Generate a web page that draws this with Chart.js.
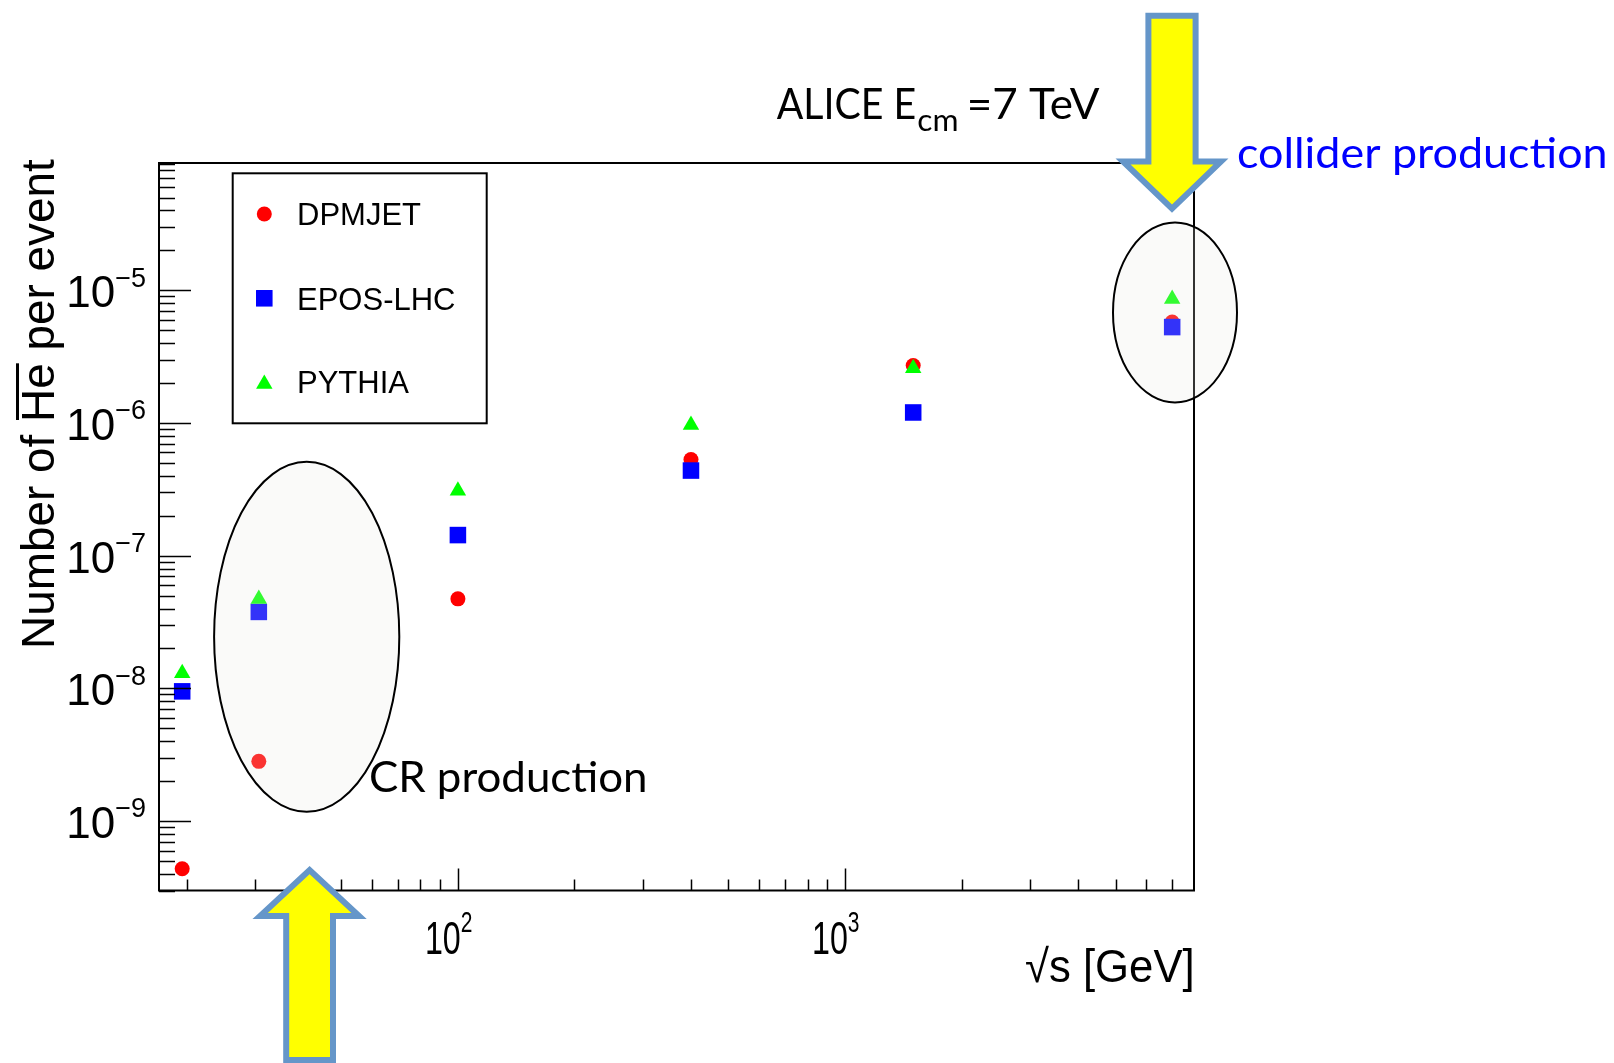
<!DOCTYPE html>
<html>
<head>
<meta charset="utf-8">
<script src="https://cdn.jsdelivr.net/npm/chart.js@4.4.1/dist/chart.umd.min.js"></script>
<style>
  html, body { margin: 0; padding: 0; background: #ffffff; overflow: hidden; }
  canvas { display: block; }
</style>
</head>
<body>
<canvas id="chart" width="1614" height="1063"></canvas>
<script>
// Centre-of-mass energies sqrt(s) in GeV
const energies = [19.4, 30.6, 100, 400, 1500, 7000];

// Number of anti-helium per event for each generator
const dpmjet  = [4.37e-10, 2.82e-9, 4.73e-8, 5.31e-7, 2.71e-6, 5.77e-6];
const eposLhc = [9.5e-9,   3.77e-8, 1.43e-7, 4.38e-7, 1.20e-6, 5.28e-6];
const pythia  = [1.30e-8,  4.72e-8, 3.09e-7, 9.66e-7, 2.58e-6, 8.59e-6];

const seriesNames = ['DPMJET', 'EPOS-LHC', 'PYTHIA'];

// Axis ranges and labelled decades
const xRange = [16.9, 7970];
const yRange = [3.0e-10, 9.1e-5];
const xDecadeExponents = [2, 3];
const yDecadeExponents = [-9, -8, -7, -6, -5];

const toPoints = vals => vals.map((v, i) => ({ x: energies[i], y: v }));

const ROOT_FONT = '"Liberation Sans", Arial, Helvetica, sans-serif';
const NOTE_FONT = 'Lato, "Open Sans", sans-serif';

// Draw text so that its inked extent spans [left, right]
function inkText(ctx, text, font, left, right, baseline, color) {
  ctx.save();
  ctx.font = font;
  ctx.fillStyle = color;
  ctx.textAlign = 'left';
  ctx.textBaseline = 'alphabetic';
  const m = ctx.measureText(text);
  const w = m.actualBoundingBoxLeft + m.actualBoundingBoxRight;
  const sx = (right - left) / w;
  ctx.translate(left, baseline);
  ctx.scale(sx, 1);
  ctx.fillText(text, m.actualBoundingBoxLeft, 0);
  ctx.restore();
}

function blockArrow(ctx, cx, tailY, baseY, tipY, shaftHalf, headHalf) {
  ctx.save();
  ctx.beginPath();
  ctx.moveTo(cx - shaftHalf, tailY);
  ctx.lineTo(cx + shaftHalf, tailY);
  ctx.lineTo(cx + shaftHalf, baseY);
  ctx.lineTo(cx + headHalf, baseY);
  ctx.lineTo(cx, tipY);
  ctx.lineTo(cx - headHalf, baseY);
  ctx.lineTo(cx - shaftHalf, baseY);
  ctx.closePath();
  ctx.fillStyle = '#ffff00';
  ctx.fill();
  ctx.lineJoin = 'miter';
  ctx.lineWidth = 6;
  ctx.strokeStyle = '#6596c9';
  ctx.stroke();
  ctx.restore();
}

function ellipseMark(ctx, cx, cy, rx, ry) {
  ctx.save();
  ctx.beginPath();
  ctx.ellipse(cx, cy, rx, ry, 0, 0, Math.PI * 2);
  ctx.fillStyle = 'rgba(232,232,229,0.22)';
  ctx.fill();
  ctx.lineWidth = 2;
  ctx.strokeStyle = '#000000';
  ctx.stroke();
  ctx.restore();
}

// "10" with a raised exponent; left edge of "10" at x0
function powerLabel(ctx, exp, x0, baseline, size, expRatio, sx) {
  ctx.save();
  ctx.fillStyle = '#000';
  ctx.textBaseline = 'alphabetic';
  ctx.textAlign = 'left';
  const big = size + 'px ' + ROOT_FONT;
  const small = Math.round(size * expRatio) + 'px ' + ROOT_FONT;
  const expText = exp < 0 ? '\u2212' + Math.abs(exp) : String(exp);
  ctx.translate(x0, baseline);
  ctx.scale(sx, 1);
  ctx.font = big;
  const wb = ctx.measureText('10').width;
  ctx.fillText('10', 0, 0);
  ctx.font = small;
  ctx.fillText(expText, wb, -size * 0.47);
  ctx.restore();
}

function powerLabelWidth(ctx, exp, size, expRatio, sx) {
  const expText = exp < 0 ? '\u2212' + Math.abs(exp) : String(exp);
  ctx.save();
  ctx.font = size + 'px ' + ROOT_FONT;
  const wb = ctx.measureText('10').width;
  ctx.font = Math.round(size * expRatio) + 'px ' + ROOT_FONT;
  const ws = ctx.measureText(expText).width;
  ctx.restore();
  return (wb + ws) * sx;
}

const rootFrame = {
  id: 'rootFrame',
  afterDatasetsDraw(chart) {
    const ctx = chart.ctx;
    const xs = chart.scales.x, ys = chart.scales.y;
    const a = chart.chartArea;

    // tick marks pointing into the frame
    ctx.save();
    ctx.strokeStyle = '#000';
    ctx.lineWidth = 1.5;
    ctx.beginPath();
    for (let e = -10; e <= -4; e++) {
      for (let k = 1; k <= 9; k++) {
        const v = k * Math.pow(10, e);
        if (v < yRange[0] || v > yRange[1]) continue;
        const py = Math.round(ys.getPixelForValue(v)) + 0.5;
        const len = k === 1 ? 32 : 16;
        ctx.moveTo(a.left, py);
        ctx.lineTo(a.left + len, py);
      }
    }
    for (let e = 1; e <= 3; e++) {
      for (let k = 1; k <= 9; k++) {
        const v = k * Math.pow(10, e);
        if (v < xRange[0] || v > xRange[1]) continue;
        const px = Math.round(xs.getPixelForValue(v)) + 0.5;
        const len = k === 1 ? 22 : 11;
        ctx.moveTo(px, a.bottom);
        ctx.lineTo(px, a.bottom - len);
      }
    }
    ctx.stroke();
    // frame
    ctx.lineWidth = 2;
    ctx.strokeRect(a.left, a.top, a.right - a.left, a.bottom - a.top);
    ctx.restore();

    // decade labels
    yDecadeExponents.forEach(e => {
      const py = ys.getPixelForValue(Math.pow(10, e));
      const w = powerLabelWidth(ctx, e, 44, 0.62, 1);
      powerLabel(ctx, e, 146 - w, py + 17, 44, 0.62, 1);
    });
    xDecadeExponents.forEach(e => {
      const px = xs.getPixelForValue(Math.pow(10, e));
      powerLabel(ctx, e, px - 33, 954, 46, 0.66, 0.7);
    });

    // axis titles
    inkText(ctx, '\u221As [GeV]', '46px ' + ROOT_FONT, 1026, 1192, 982, '#000');

    ctx.save();
    ctx.translate(54, 646);
    ctx.rotate(-Math.PI / 2);
    ctx.font = '46px ' + ROOT_FONT;
    ctx.fillStyle = '#000';
    ctx.textBaseline = 'alphabetic';
    const title = 'Number of He per event';
    const m = ctx.measureText(title);
    const sx = 487 / (m.actualBoundingBoxLeft + m.actualBoundingBoxRight);
    ctx.scale(sx, 1);
    ctx.fillText(title, m.actualBoundingBoxLeft, 0);
    const pre = ctx.measureText('Number of ').width + m.actualBoundingBoxLeft;
    const he = ctx.measureText('He').width;
    ctx.fillRect(pre + 2, -38, he - 2, 3);
    ctx.restore();

    // legend
    ctx.save();
    ctx.lineWidth = 2;
    ctx.strokeStyle = '#000';
    ctx.strokeRect(232.7, 173.3, 254, 250);
    const rowY = [225, 310, 393.3];
    const markY = [214, 298.3, 384];
    ctx.font = '31px ' + ROOT_FONT;
    chart.data.datasets.forEach((ds, i) => {
      ctx.fillStyle = ds.backgroundColor;
      Chart.helpers.drawPoint(ctx, { pointStyle: ds.pointStyle, radius: ds.pointRadius, rotation: 0, borderWidth: 0 }, 264.3, markY[i]);
      ctx.fillStyle = '#000';
      ctx.fillText(ds.label, 297, rowY[i]);
    });
    ctx.restore();

    // highlighted regions and arrows
    ellipseMark(ctx, 306.7, 636.8, 92.6, 175);
    ellipseMark(ctx, 1175, 312.4, 62, 90);
    blockArrow(ctx, 1172, 15.7, 161.5, 208.6, 23.6, 49);
    blockArrow(ctx, 309.6, 1060, 916, 870, 23.4, 49.5);

    // notes
    inkText(ctx, 'ALICE E', '42px ' + NOTE_FONT, 776.7, 915, 119.3, '#000');
    inkText(ctx, 'cm', '30px ' + NOTE_FONT, 918.3, 956.7, 130.7, '#000');
    inkText(ctx, '=7 TeV', '42px ' + NOTE_FONT, 970, 1100, 119.3, '#000');
    inkText(ctx, 'CR production', '42px ' + NOTE_FONT, 371, 645, 791.7, '#000');
    inkText(ctx, 'collider production', '42px ' + NOTE_FONT, 1238, 1605, 168.3, '#0000ff');
  }
};

new Chart(document.getElementById('chart'), {
  type: 'scatter',
  data: {
    datasets: [
      { label: seriesNames[0], data: toPoints(dpmjet), pointStyle: 'circle', pointRadius: 7.5,
        backgroundColor: '#ff0000', borderWidth: 0, order: 3 },
      { label: seriesNames[1], data: toPoints(eposLhc), pointStyle: 'rect', pointRadius: 11.7,
        backgroundColor: '#0000ff', borderWidth: 0, order: 2 },
      { label: seriesNames[2], data: toPoints(pythia), pointStyle: 'triangle', pointRadius: 9.5,
        backgroundColor: '#00ff00', borderWidth: 0, order: 1 }
    ]
  },
  options: {
    responsive: false,
    animation: false,
    devicePixelRatio: 1,
    layout: { padding: { left: 159, top: 163, right: 1614 - 1194, bottom: 1063 - 890.5 } },
    plugins: { legend: { display: false }, tooltip: { enabled: false } },
    elements: { point: { hoverRadius: 0 } },
    clip: false,
    scales: {
      x: { type: 'logarithmic', min: xRange[0], max: xRange[1], display: false },
      y: { type: 'logarithmic', min: yRange[0], max: yRange[1], display: false }
    }
  },
  plugins: [rootFrame]
});
</script>
</body>
</html>
